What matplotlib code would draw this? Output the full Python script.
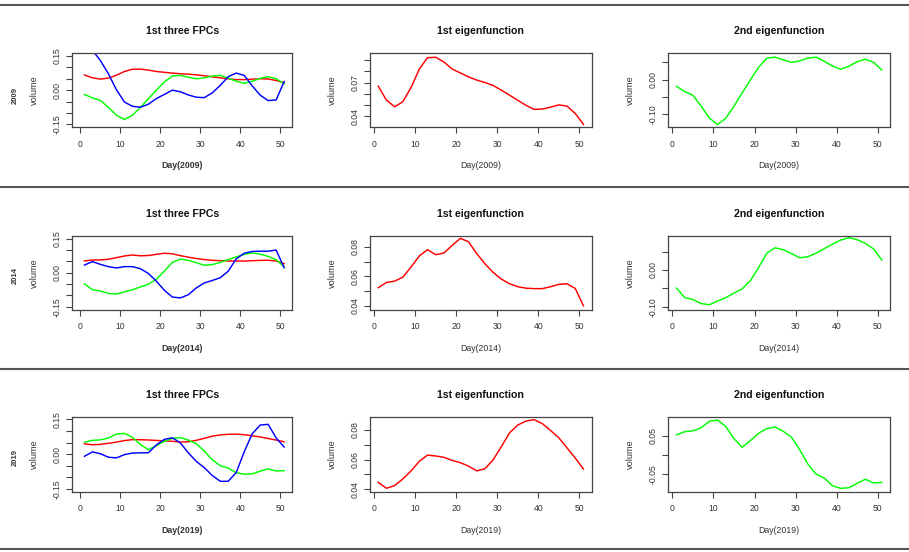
import numpy as np
import matplotlib
matplotlib.use('Agg')
import matplotlib.pyplot as plt
from matplotlib.lines import Line2D

plt.rcParams['font.family'] = ['Liberation Sans', 'DejaVu Sans']

# ---- data (days 1,3,...,51) ----
years = ['2009', '2014', '2019']
days = np.arange(1, 52, 2)

fpc1_2009 = [0.0668, 0.0544, 0.0485, 0.0530, 0.0656, 0.0818, 0.0920, 0.0924, 0.0882, 0.0820,
             0.0785, 0.0750, 0.0722, 0.0700, 0.0674, 0.0632, 0.0588, 0.0542, 0.0498, 0.0462,
             0.0465, 0.0482, 0.0502, 0.0491, 0.0425, 0.0329]
fpc2_2009 = [-0.019, -0.034, -0.045, -0.076, -0.110, -0.129, -0.111, -0.076, -0.038, 0.000,
             0.036, 0.062, 0.065, 0.057, 0.050, 0.054, 0.062, 0.065, 0.053, 0.039,
             0.030, 0.039, 0.052, 0.059, 0.050, 0.028]
fpc3_2009 = [0.220, 0.175, 0.130, 0.072, 0.002, -0.052, -0.071, -0.075, -0.062, -0.037,
             -0.019, 0.000, -0.007, -0.021, -0.031, -0.033, -0.012, 0.021, 0.059, 0.075,
             0.065, 0.019, -0.022, -0.046, -0.043, 0.038]

fpc1_2014 = [0.0523, 0.0559, 0.0568, 0.0595, 0.0664, 0.0739, 0.0782, 0.0748, 0.0759, 0.0811,
             0.0859, 0.0836, 0.0755, 0.0686, 0.0627, 0.0582, 0.0550, 0.0530, 0.0520, 0.0517,
             0.0517, 0.0530, 0.0546, 0.0550, 0.0518, 0.0400]
fpc2_2014 = [-0.049, -0.075, -0.080, -0.091, -0.094, -0.084, -0.075, -0.0625, -0.051, -0.029,
             0.007, 0.0455, 0.060, 0.055, 0.0446, 0.033, 0.036, 0.0455, 0.058, 0.070,
             0.081, 0.0875, 0.082, 0.072, 0.057, 0.027]
fpc3_2014 = [0.034, 0.049, 0.037, 0.027, 0.021, 0.027, 0.027, 0.018, -0.003, -0.037,
             -0.077, -0.107, -0.111, -0.097, -0.067, -0.045, -0.034, -0.022, 0.007, 0.061,
             0.086, 0.094, 0.095, 0.095, 0.100, 0.022]

fpc1_2019 = [0.0447, 0.0407, 0.0425, 0.0470, 0.0524, 0.0588, 0.0630, 0.0624, 0.0615, 0.0594,
             0.0579, 0.0556, 0.0524, 0.0538, 0.0599, 0.0687, 0.0780, 0.0832, 0.0859, 0.0868,
             0.0841, 0.0795, 0.0746, 0.0678, 0.0610, 0.0536]
fpc2_2019 = [0.0517, 0.060, 0.062, 0.070, 0.087, 0.090, 0.0735, 0.042, 0.0196, 0.037,
             0.056, 0.068, 0.072, 0.061, 0.0457, 0.0135, -0.024, -0.050, -0.060, -0.080,
             -0.0865, -0.085, -0.0735, -0.063, -0.0726, -0.071]
fpc3_2019 = [-0.009, 0.010, 0.002, -0.013, -0.016, -0.002, 0.005, 0.006, 0.006, 0.040,
             0.064, 0.071, 0.049, 0.006, -0.031, -0.058, -0.092, -0.117, -0.117, -0.079,
             0.010, 0.088, 0.126, 0.129, 0.070, 0.031]

fpc1 = [fpc1_2009, fpc1_2014, fpc1_2019]
fpc2 = [fpc2_2009, fpc2_2014, fpc2_2019]
fpc3 = [fpc3_2009, fpc3_2014, fpc3_2019]

xticks = [0, 10, 20, 30, 40, 50]
fpc_yticks = [-0.15, -0.10, -0.05, 0.00, 0.05, 0.10, 0.15]
fpc_ylabels = ['-0.15', '', '', '0.00', '', '', '0.15']
eig1_yticks = [[0.04, 0.05, 0.06, 0.07, 0.08, 0.09],
               [0.04, 0.05, 0.06, 0.07, 0.08],
               [0.04, 0.05, 0.06, 0.07, 0.08]]
eig1_ylabels = [['0.04', '', '', '0.07', '', ''],
                ['0.04', '', '0.06', '', '0.08'],
                ['0.04', '', '0.06', '', '0.08']]
eig2_yticks = [[-0.10, -0.05, 0.00, 0.05],
               [-0.10, -0.05, 0.00, 0.05],
               [-0.05, 0.00, 0.05]]
eig2_ylabels = [['-0.10', '', '0.00', ''],
                ['-0.10', '', '0.00', ''],
                ['-0.05', '', '0.05']]
# y ranges of the eigenfunction panels (R pads the true curve range by 4%)
eig1_ylim = [(0.0306, 0.0959), (0.0375, 0.0875), (0.0384, 0.0888)]
eig2_ylim = [(-0.136, 0.076), (-0.107, 0.092), (-0.0952, 0.0987)]

# ---- layout (pixels) ----
W, H = 909, 552
fig = plt.figure(figsize=(W / 100, H / 100), dpi=100)

col_px = [(72.3, 292.3), (370.0, 591.7), (668.3, 890.0)]
row_px = [(53.3, 127.0), (236.0, 309.5), (416.7, 491.7)]
year_y = [95, 276, 457]
sep_y = [4.7, 186.7, 369, 549]

box_col = '#444444'
txt_col = '#333333'
RED, GREEN, BLUE = '#ff0000', '#00ff00', '#0000ff'
LW = 1.05


def panel(r, c, title, xlab, bold_x=False):
    x0, x1 = col_px[c]
    y0, y1 = row_px[r]
    ax = fig.add_axes([x0 / W, 1 - y1 / H, (x1 - x0) / W, (y1 - y0) / H])
    for s in ax.spines.values():
        s.set_color(box_col)
        s.set_linewidth(0.9)
    ax.tick_params(direction='out', length=4.1, width=0.8, color=box_col,
                   labelcolor=txt_col, labelsize=6.2)
    ax.tick_params(axis='x', pad=5.0)
    ax.tick_params(axis='y', pad=3.5)
    ax.set_xticks(xticks)
    ax.set_xticklabels([str(t) for t in xticks])
    h = y1 - y0
    ax.text(0.5, 1 + 22 / h, title, transform=ax.transAxes, ha='center', va='center',
            fontsize=7.6, fontweight='bold', color='#111111')
    ax.text(0.5, -39 / h, xlab, transform=ax.transAxes, ha='center', va='center',
            fontsize=6.3, color=txt_col, fontweight='bold' if bold_x else 'normal')
    ax.text(-38 / (x1 - x0), 0.5, 'volume', transform=ax.transAxes, ha='center',
            va='center', rotation=90, fontsize=6.6, color=txt_col)
    return ax


def set_y(ax, ticks, labels):
    ax.set_yticks(ticks)
    ax.set_yticklabels(labels, rotation=90, va='center')


for r, yr in enumerate(years):
    xlab = 'Day(%s)' % yr

    ax = panel(r, 0, '1st three FPCs', xlab, bold_x=True)
    ax.plot(days, fpc1[r], color=RED, lw=LW)
    ax.plot(days, fpc2[r], color=GREEN, lw=LW)
    ax.plot(days, fpc3[r], color=BLUE, lw=LW)
    ax.set_xlim(-2.04, 53.04)
    ax.set_ylim(-0.162, 0.162)
    set_y(ax, fpc_yticks, fpc_ylabels)

    ax = panel(r, 1, '1st eigenfunction', xlab)
    ax.plot(days, fpc1[r], color=RED, lw=LW)
    ax.set_xlim(-1, 53)
    ax.set_ylim(*eig1_ylim[r])
    set_y(ax, eig1_yticks[r], eig1_ylabels[r])

    ax = panel(r, 2, '2nd eigenfunction', xlab)
    ax.plot(days, fpc2[r], color=GREEN, lw=LW)
    ax.set_xlim(-1, 53)
    ax.set_ylim(*eig2_ylim[r])
    set_y(ax, eig2_yticks[r], eig2_ylabels[r])

    fig.text(15 / W, 1 - year_y[r] / H, yr, rotation=90, fontsize=5.5,
             fontweight='bold', ha='center', va='center', color='#333333')

for y in sep_y:
    fig.add_artist(Line2D([0, 1], [1 - y / H, 1 - y / H], transform=fig.transFigure,
                          color='#555555', lw=1.5))

fig.savefig('out.png', dpi=100)
